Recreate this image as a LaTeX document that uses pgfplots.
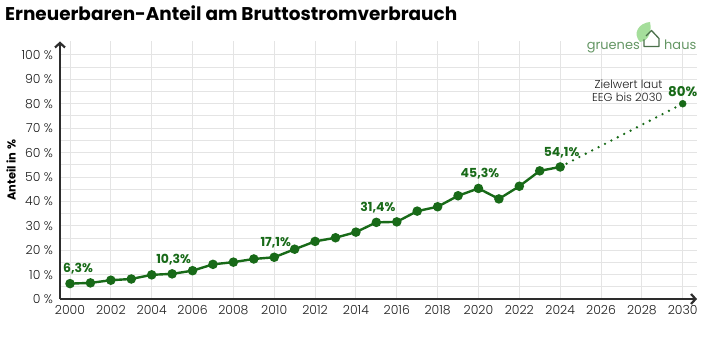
\documentclass[border=0pt]{standalone}
\usepackage{fontspec}
\setmainfont{Poppins}
\newfontfamily\plight{Poppins Light}
\usepackage{pgfplots}
\pgfplotsset{compat=1.18}
\usetikzlibrary{arrows.meta}
\definecolor{dgreen}{RGB}{24,106,24}
\definecolor{axgray}{RGB}{45,45,45}
\definecolor{tickgray}{RGB}{30,30,30}
\definecolor{gridgray}{RGB}{228,228,228}
\definecolor{logogreen}{RGB}{100,150,100}
\definecolor{leafgreen}{RGB}{165,222,155}
\begin{document}
\begin{tikzpicture}
\begin{axis}[
  at={(0,0)}, anchor=south west,
  scale only axis,
  width=637bp, height=257.5bp,
  xmin=1999.51, xmax=2030.7,
  ymin=0, ymax=105.5,
  axis lines=left,
  axis line style={line width=2.6bp, draw=axgray, -{Straight Barb[length=4.5bp,width=10bp,line width=2.2bp]}},
  xtick={2000,2002,...,2030},
  ytick={0,10,...,100},
  minor ytick={5,15,...,95},
  major tick length=0pt, minor tick length=0pt,
  grid=both,
  major grid style={draw=gridgray, line width=0.9bp},
  minor grid style={draw=gridgray, line width=0.9bp},
  xticklabel={\pgfmathprintnumber[assume math mode=true,1000 sep={}]{\tick}},
  yticklabel={\pgfmathprintnumber[assume math mode=true]{\tick} \%},
  tick label style={font=\plight\fontsize{12.5}{14}\selectfont, text=tickgray},
  xticklabel style={yshift=-3bp},
  yticklabel style={xshift=-3.5bp},
  ylabel={Anteil in \%},
  every axis y label/.style={at={(axis description cs:0,0.5)}, rotate=90, anchor=center, yshift=49bp, font=\fontsize{11.5}{13}\selectfont\bfseries},
  clip=false,
]
\addplot[dgreen, line width=2.4bp, mark=*, mark size=3.5bp, mark options={solid}] coordinates {
(2000,6.3) (2001,6.6) (2002,7.7) (2003,8.2) (2004,9.9) (2005,10.3) (2006,11.6) (2007,14.2) (2008,15.1) (2009,16.4) (2010,17.1) (2011,20.4) (2012,23.6) (2013,25.1) (2014,27.4) (2015,31.4) (2016,31.6) (2017,36.0) (2018,37.8) (2019,42.3) (2020,45.3) (2021,41.0) (2022,46.2) (2023,52.5) (2024,54.1)
};
\addplot[dgreen, line width=2.6bp, line cap=round, dash pattern=on 0pt off 7.2bp] coordinates {(2024,54.1) (2030,80)};
\addplot[dgreen, only marks, mark=*, mark size=3.5bp] coordinates {(2030,80)};
\addplot[draw=none, mark=none, nodes near coords, point meta=explicit symbolic,
  every node near coord/.style={anchor=center, xshift=1.5bp, yshift=14.5bp, font=\fontsize{12.5}{14}\selectfont\bfseries, text=dgreen}]
  coordinates {(2005,10.3)[10,3\%] (2010,17.1)[17,1\%] (2015,31.4)[31,4\%] (2020,45.3)[45,3\%] (2024,54.1)[54,1\%]};
\addplot[draw=none, mark=none, nodes near coords, point meta=explicit symbolic,
  every node near coord/.style={anchor=center, xshift=8bp, yshift=14.5bp, font=\fontsize{12.5}{14}\selectfont\bfseries, text=dgreen}]
  coordinates {(2000,6.3)[6,3\%]};
\addplot[draw=none, mark=none, nodes near coords, point meta=explicit symbolic,
  every node near coord/.style={anchor=center, yshift=12bp, font=\fontsize{13.5}{15}\selectfont\bfseries, text=dgreen}]
  coordinates {(2030,80)[80\%]};
\node[anchor=south east, align=right, inner sep=0pt, font=\plight\fontsize{11.5}{12.5}\selectfont, text=tickgray] at (axis cs:2030,80) [xshift=-20bp, yshift=2bp] {Zielwert laut\\EEG bis 2030};
\end{axis}
% title
\node[anchor=west, inner sep=0pt, font=\fontsize{18.5}{22}\selectfont\bfseries] at (-55bp,286bp) {Erneuerbaren-Anteil am Bruttostromverbrauch};
% logo
\fill[leafgreen] (580bp,257bp) .. controls (572bp,266bp) and (579bp,276bp) .. (590bp,277bp) .. controls (592bp,268bp) and (589bp,258bp) .. (580bp,257bp);
\draw[logogreen!75!black, line width=1.3bp, line join=round] (584bp,259.5bp) -- (584bp,252.5bp) -- (599bp,252.5bp) -- (599bp,260.5bp) -- (591.5bp,268.5bp) -- (586bp,263bp);
\node[anchor=base east, inner sep=0pt, font=\fontsize{13}{15}\selectfont, text=logogreen] at (580bp,249.5bp) {gruenes};
\node[anchor=base west, inner sep=0pt, font=\fontsize{13}{15}\selectfont, text=logogreen] at (604bp,249.5bp) {haus};
\pgfresetboundingbox
\path[use as bounding box] (-60bp,-47bp) rectangle (641bp,299bp);
\end{tikzpicture}
\end{document}
